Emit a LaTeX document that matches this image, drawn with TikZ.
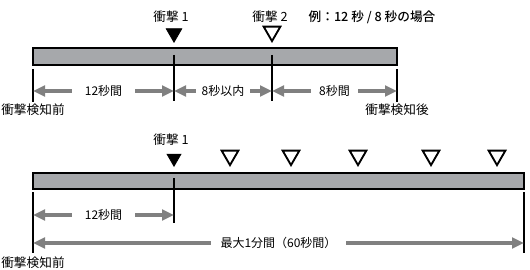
\documentclass[tikz,border=0pt]{standalone}
\usepackage{fontspec}
\setmainfont{Noto Sans CJK JP}
\newfontfamily\notefont{Noto Sans CJK JP Medium}
\usetikzlibrary{arrows.meta, shapes.geometric}
\definecolor{bargray}{RGB}{166,168,171}
\definecolor{spangray}{RGB}{128,128,128}

\begin{document}
\begin{tikzpicture}[
    x=0.75pt, y=-0.75pt,
    bar/.style={draw=black, line width=0.9pt, fill=bargray},
    tick/.style={draw=black, line width=0.8pt},
    span/.style={{Triangle[length=9pt,width=8pt]}-{Triangle[length=9pt,width=8pt]}, draw=spangray, line width=2.3pt},
    spanlabel/.style={fill=white, inner ysep=1pt, font=\fontsize{9}{10}\selectfont, text=black},
    caption/.style={font=\fontsize{9.5}{11}\selectfont, inner sep=0pt},
    hit/.style={regular polygon, regular polygon sides=3, shape border rotate=180, inner sep=0pt, anchor=south},
    hitfirst/.style={hit, fill=black, draw=black, line width=0.6pt, minimum size=13.5pt},
    hitnext/.style={hit, draw=black, line width=1.4pt, minimum size=14.5pt},
]
    \useasboundingbox (0,0) rectangle (530,270);

    % example: 12 s / 8 s
    \node[caption] (h1) at (171,17) {衝撃 1};
    \node[caption] (h2) at (270,17) {衝撃 2};
    \node[caption, font=\fontsize{9.5}{11}\selectfont\notefont] (note) at (372,17) {例：12 秒 / 8 秒の場合};
    \node[hitfirst] (m1) at (174,43) {};
    \node[hitnext] (m2) at (272,43) {};

    \draw[bar] (33,48) rectangle (397,65);
    \draw[tick] (174,55) -- (174,101);
    \draw[tick] (272,55) -- (272,101);
    \draw[tick] (33,69) -- (33,102);
    \draw[tick] (397,69) -- (397,102);

    \coordinate (t0) at (33,91);
    \coordinate (t1) at (174,91);
    \coordinate (t2) at (272,91);
    \coordinate (t3) at (397,91);
    \draw[span] (t0) -- node[spanlabel, inner xsep=9.5pt] {12秒間} (t1);
    \draw[span] (t1) -- node[spanlabel, inner xsep=4pt] {8秒以内} (t2);
    \draw[span] (t2) -- node[spanlabel, inner xsep=6pt] {8秒間} (t3);

    \node[caption] (before1) at (33,110) {衝撃検知前};
    \node[caption] (after1) at (397,110) {衝撃検知後};

    % maximum: 1 minute
    \node[caption] (h3) at (171,140) {衝撃 1};
    \node[hitfirst, minimum size=12pt] (n1) at (174,167) {};
    \foreach \x [count=\i from 2] in {230,291,358,431,497}
        \node[hitnext] (n\i) at (\x,167) {};

    \draw[bar] (33,173) rectangle (524,189);
    \draw[tick] (174,178) -- (174,223);
    \draw[tick] (33,192) -- (33,253);
    \draw[tick] (524,192) -- (524,253);

    \coordinate (b0) at (33,215);
    \coordinate (b1) at (174,215);
    \coordinate (c0) at (33,243);
    \coordinate (c1) at (524,243);
    \draw[span] (b0) -- node[spanlabel, inner xsep=9.5pt] {12秒間} (b1);
    \draw[span] (c0) -- node[spanlabel, inner xsep=7.5pt] {最大1分間（60秒間）} (c1);

    \node[caption] (before2) at (33,263) {衝撃検知前};
\end{tikzpicture}
\end{document}
